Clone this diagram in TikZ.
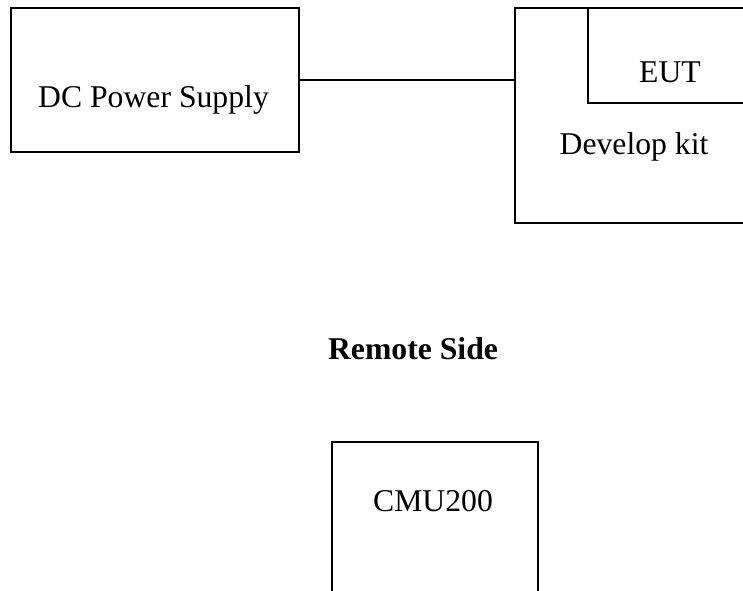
\documentclass[tikz,border=0pt]{standalone}
\usepackage{fontspec}
\setmainfont{Liberation Serif}
\usepackage{tikz}
\usetikzlibrary{positioning, calc}
\tikzstyle{unitbox}=[draw,line width=1.8pt,rectangle,anchor=north west,inner sep=0pt]
\tikzstyle{txt}=[anchor=base,inner sep=0pt,font=\fontsize{31.7}{38}\selectfont]

\begin{document}
\begin{tikzpicture}[x=1pt,y=-1pt]
  \useasboundingbox (0,0) rectangle (743,590);
  \clip (0,0) rectangle (743,590);
  \node[unitbox,minimum width=288pt,minimum height=144pt] (dc) at (10,7) {};
  \node[unitbox,minimum width=300pt,minimum height=215pt] (kit) at (514,7) {};
  \node[unitbox,minimum width=200pt,minimum height=95pt] (eut) at (587,7) {};
  \node[unitbox,minimum width=206pt,minimum height=200pt] (cmu) at (331,441) {};
  \node[txt] (dct) at (153.5,107) {DC Power Supply};
  \node[txt] (eutt) at (670,82) {EUT};
  \node[txt] (kitt) at (634,154) {Develop kit};
  \node[txt,font=\fontsize{31.7}{38}\selectfont\bfseries] (remote) at (413,359) {Remote Side};
  \node[txt] (cmut) at (433,511) {CMU200};
  \draw[line width=1.8pt] (dc.east) -- (dc.east -| kit.west);
\end{tikzpicture}
\end{document}
